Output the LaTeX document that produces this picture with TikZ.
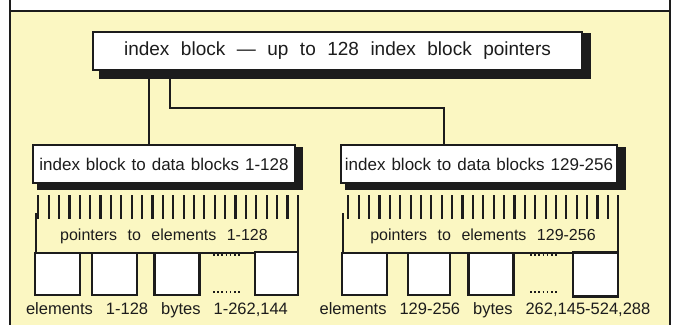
\documentclass[tikz,border=0pt]{standalone}
\usepackage{fontspec}
\setmainfont{Liberation Sans}
\usetikzlibrary{positioning, calc, backgrounds}
\definecolor{pageYellow}{RGB}{251, 247, 194}
\definecolor{inkBlack}{RGB}{28, 28, 28}
\newcommand{\wordgap}[1]{\spaceskip=#1\relax}

\begin{document}
\begin{tikzpicture}[
    x=1pt, y=-1pt,
    font=\fontsize{16}{19}\selectfont,
    blockbox/.style={
        draw=inkBlack,
        fill=white,
        rectangle,
        line width=2pt,
        inner sep=0pt,
        minimum height=38pt,
        align=center,
        text=inkBlack
    },
    cell/.style={
        draw=inkBlack,
        fill=white,
        rectangle,
        line width=2.4pt,
        inner sep=0pt,
        minimum width=45pt,
        minimum height=42pt
    },
    caption/.style={
        inner sep=0pt,
        text=inkBlack,
        font=\fontsize{16}{19}\selectfont\wordgap{10.5pt}
    },
    link/.style={
        draw=inkBlack,
        line width=2pt
    },
    tooth/.style={
        draw=inkBlack,
        line width=2.2pt
    },
    dots/.style={
        draw=inkBlack,
        line width=1.6pt,
        dash pattern=on 1.6pt off 2.6pt
    }
]
\useasboundingbox (0,0) rectangle (679,325);

% ================= FRAME =================
\begin{scope}[on background layer]
    \fill[pageYellow] (10,11) rectangle (670,325);
    \draw[link] (10,0) -- (10,325);
    \draw[link] (670,0) -- (670,325);
    \draw[link] (10,11) -- (670,11);
\end{scope}

% ================= INDEX BLOCKS =================
\node[blockbox, minimum width=489pt, font=\fontsize{19}{22}\selectfont\wordgap{11.5pt}] (top) at (337.5,51) {index block — up to 128 index block pointers};
\node[blockbox, minimum width=262pt, font=\fontsize{17}{20}\selectfont\wordgap{6pt}] (blkA) at (164,164) {index block to data blocks 1-128};
\node[blockbox, minimum width=276pt, font=\fontsize{17}{20}\selectfont\wordgap{6pt}] (blkB) at (479,164) {index block to data blocks 129-256};

\begin{scope}[on background layer]
    \fill[inkBlack] ($(top.north east)+(8,2)$) rectangle ($(top.south west)+(7,8)$);
    \fill[inkBlack] ($(blkA.north east)+(7,3)$) rectangle ($(blkA.south west)+(5,6)$);
    \fill[inkBlack] ($(blkB.north east)+(8,3)$) rectangle ($(blkB.south west)+(5,6)$);
\end{scope}

\coordinate (tapA) at (149,70);
\coordinate (tapB) at (170,70);
\coordinate (bendB) at (444,108);
\draw[link] (tapA) -- (tapA |- blkA.north);
\draw[link] (tapB) |- (bendB) -- (bendB |- blkB.north);

% ================= POINTER COMBS =================
\foreach \i in {0,...,25}
    \draw[tooth] ({38.3+\i*10.38},195) -- ++(0,24);
\foreach \i in {0,...,26}
    \draw[tooth] ({348.3+\i*10.385},195) -- ++(0,24);

\draw[link] (36,213) |- (297.7,253) -- (297.7,215);
\draw[link] (343,213) |- (618.3,253) -- (618.3,215);

\node[caption] (ptrA) at (164,236) {pointers to elements 1-128};
\node[caption] (ptrB) at (483,236) {pointers to elements 129-256};

% ================= ELEMENTS =================
\node[cell] (a1) at (57.5,274) {};
\node[cell] (a2) at (114.5,274) {};
\node[cell] (a3) at (177,274) {};
\node[cell, minimum width=43pt, minimum height=43pt] (a4) at (276.5,273.5) {};
\draw[dots] (213,255) -- (242,255);
\draw[dots] (213,292) -- (242,292);

\node[cell] (b1) at (364.5,274) {};
\node[cell, minimum width=42pt] (b2) at (429,274) {};
\node[cell] (b3) at (491,274) {};
\node[cell, minimum width=45pt, minimum height=44pt] (b4) at (595.5,274.5) {};
\draw[dots] (530,255) -- (558,255);
\draw[dots] (530,292) -- (558,292);

\node[caption, font=\fontsize{16.5}{19}\selectfont\wordgap{13pt}] (bytesA) at (157,310) {elements 1-128 bytes 1-262,144};
\node[caption, font=\fontsize{16.5}{19}\selectfont\wordgap{13pt}] (bytesB) at (485,310) {elements 129-256 bytes 262,145-524,288};

\end{tikzpicture}
\end{document}
